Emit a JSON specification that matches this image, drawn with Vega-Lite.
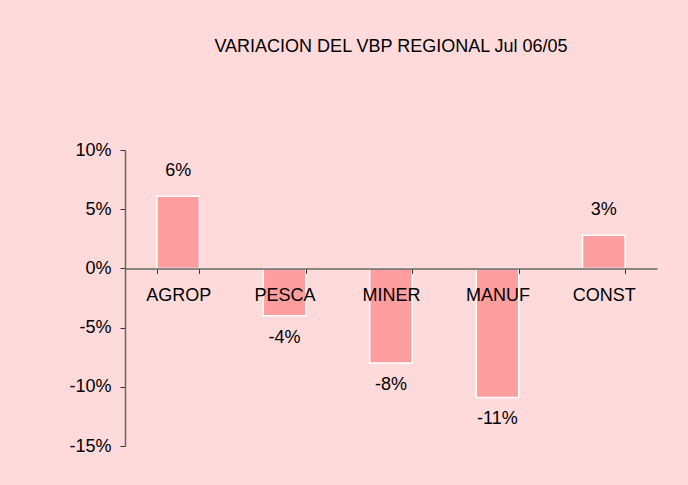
{
  "$schema": "https://vega.github.io/schema/vega-lite/v6.json",
  "autosize": "none",
  "width": 532,
  "height": 296,
  "padding": {"left": 125, "top": 150, "right": 31, "bottom": 39},
  "background": "#FFDADA",
  "config": {
    "view": {"stroke": null},
    "font": "Liberation Sans"
  },
  "title": {
    "text": "VARIACION DEL VBP REGIONAL Jul 06/05",
    "fontSize": 18,
    "fontWeight": "normal",
    "color": "#000000",
    "offset": 85,
    "anchor": "middle",
    "font": "Liberation Sans"
  },
  "data": {
    "values": [
      {"sector": "AGROP", "value": 0.061, "label": "6%"},
      {"sector": "PESCA", "value": -0.04, "label": "-4%"},
      {"sector": "MINER", "value": -0.08, "label": "-8%"},
      {"sector": "MANUF", "value": -0.109, "label": "-11%"},
      {"sector": "CONST", "value": 0.028, "label": "3%"}
    ]
  },
  "encoding": {
    "x": {
      "field": "sector",
      "type": "nominal",
      "sort": null,
      "scale": {"paddingInner": 0.6, "paddingOuter": 0.3},
      "axis": {
        "title": null,
        "offset": -177.6,
        "zindex": 1,
        "domainColor": "#666666",
        "domainWidth": 1.5,
        "tickColor": "#333333",
        "tickSize": 5,
        "tickBand": "extent",
        "labelAngle": 0,
        "labelFontSize": 18,
        "labelColor": "#000000",
        "labelPadding": 13,
        "labelFont": "Liberation Sans"
      }
    },
    "y": {
      "field": "value",
      "type": "quantitative",
      "scale": {"domain": [-0.15, 0.10], "nice": false, "zero": false},
      "axis": {
        "title": null,
        "format": ".0%",
        "labelExpr": "replace(datum.label, '\u2212', '-')",
        "values": [-0.15, -0.10, -0.05, 0, 0.05, 0.10],
        "grid": false,
        "zindex": 1,
        "domainColor": "#666666",
        "domainWidth": 1.5,
        "tickColor": "#333333",
        "tickSize": 5,
        "labelFontSize": 18,
        "labelColor": "#000000",
        "labelPadding": 9,
        "labelFont": "Liberation Sans"
      }
    }
  },
  "layer": [
    {
      "mark": {"type": "bar", "fill": "#FF9E9E", "stroke": "#FFFFFF", "strokeWidth": 1.5},
      "encoding": {"y2": {"datum": 0}}
    },
    {
      "transform": [{"filter": "datum.value >= 0"}],
      "mark": {"type": "text", "dy": -25, "fontSize": 18, "color": "#000000", "baseline": "middle"},
      "encoding": {"text": {"field": "label"}}
    },
    {
      "transform": [{"filter": "datum.value < 0"}],
      "mark": {"type": "text", "dy": 22, "fontSize": 18, "color": "#000000", "baseline": "middle"},
      "encoding": {"text": {"field": "label"}}
    }
  ]
}
